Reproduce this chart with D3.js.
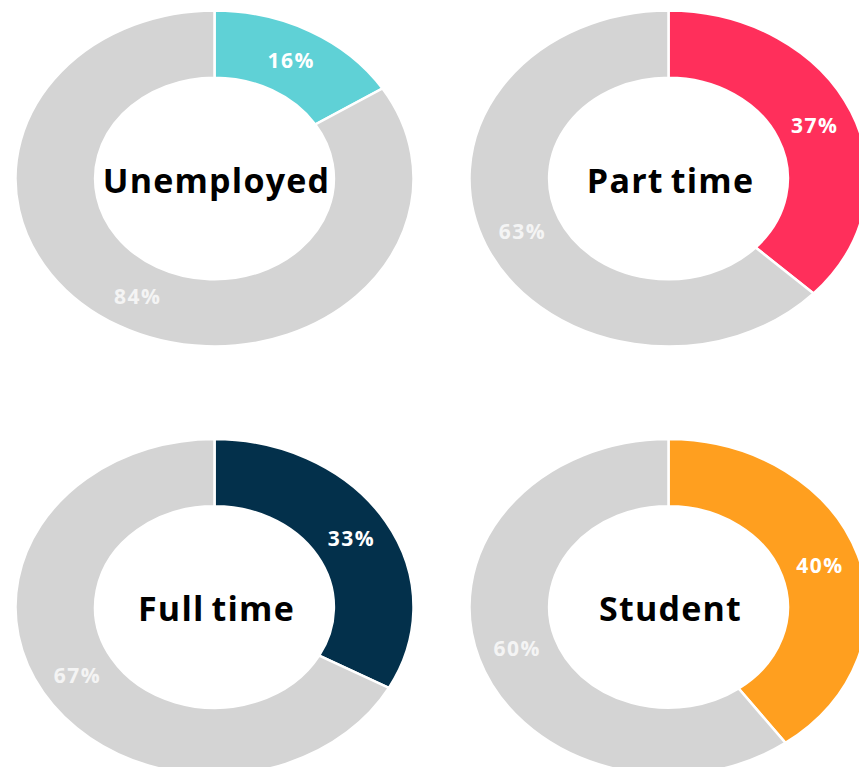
<!DOCTYPE html>
<html>
<head>
<meta charset="utf-8">
<script src="https://cdn.jsdelivr.net/npm/d3@7"></script>
<style>
  html, body { margin: 0; padding: 0; background: #fff; overflow: hidden; }
  svg { display: block; }
</style>
</head>
<body>
<div id="chart"></div>
<script>
// data
const categories = ["Unemployed", "Part time", "Full time", "Student"]
const shares = [16, 37, 33, 40]
const colors = ["#5fd1d6", "#ff2f5b", "#03304b", "#ff9f1f"]
const restColor = "#d4d4d4"

const width = 859, height = 767

// grid: 2 columns x 2 rows
const cx = d3.scalePoint().domain([0, 1]).range([214.5, 668.5])
const cy = d3.scalePoint().domain([0, 1]).range([178.5, 607])

const outerR = 199, innerR = outerR * 0.6
const squash = 168 / 199 // charts are a bit flattened vertically

const svg = d3.select("#chart").append("svg")
    .attr("width", width)
    .attr("height", height)

const pie = d3.pie().sort(null).value(d => d)
const arc = d3.arc().innerRadius(innerR).outerRadius(outerR)
const labelArc = d3.arc().innerRadius(outerR * 0.8).outerRadius(outerR * 0.8)

categories.forEach((name, i) => {
    const col = i % 2, row = Math.floor(i / 2)
    const values = [shares[i], 100 - shares[i]]
    const slices = pie(values)

    const g = svg.append("g")
        .attr("transform", `translate(${cx(col)},${cy(row)})`)

    // ring, drawn as a circle and squashed
    g.append("g")
        .attr("transform", `scale(1,${squash})`)
        .selectAll("path")
        .data(slices)
        .join("path")
        .attr("d", arc)
        .attr("fill", (d, j) => j === 0 ? colors[i] : restColor)
        .attr("stroke", "#fff")
        .attr("stroke-width", 2.5)
        .attr("vector-effect", "non-scaling-stroke")

    // percentage labels
    g.selectAll("text.pct")
        .data(slices)
        .join("text")
        .attr("class", "pct")
        .attr("x", d => labelArc.centroid(d)[0])
        .attr("y", d => labelArc.centroid(d)[1] * squash)
        .attr("dy", "0.36em")
        .attr("text-anchor", "middle")
        .attr("font-family", "'Open Sans', sans-serif")
        .attr("font-weight", "bold")
        .attr("font-size", 21)
        .attr("letter-spacing", 1.5)
        .attr("fill", (d, j) => j === 0 ? "#fff" : "#f4f4f4")
        .text(d => d.data + "%")

    // category title in the hole
    g.append("text")
        .attr("x", 2)
        .attr("y", 14)
        .attr("text-anchor", "middle")
        .attr("font-family", "'Open Sans', sans-serif")
        .attr("font-weight", "bold")
        .attr("font-size", 34)
        .attr("letter-spacing", 1.2)
        .attr("word-spacing", -3)
        .attr("fill", "#000")
        .text(name)
})
</script>
</body>
</html>
